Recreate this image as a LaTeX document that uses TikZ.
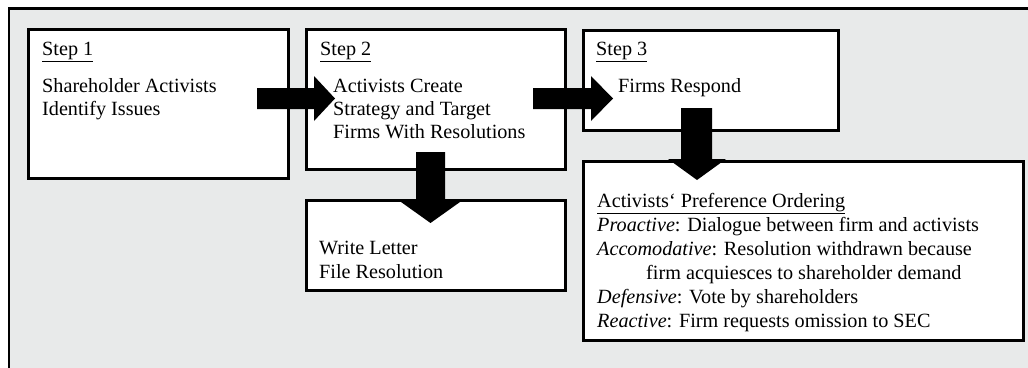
\documentclass[tikz,border=0pt]{standalone}
\usepackage{fontspec}
\setmainfont{Liberation Serif}
\definecolor{bg}{RGB}{232,234,234}
\tikzset{
  box/.style={draw, line width=2.5pt, fill=white, inner sep=0pt, anchor=north west},
  txt/.style={anchor=base west, inner sep=0pt, font=\fontsize{20.2}{23.5}\selectfont},
  blk/.style={fill=black}
}
\begin{document}
\begin{tikzpicture}[x=1pt,y=-1pt]
\useasboundingbox (0,0) rectangle (1028,367);
\clip (0,0) rectangle (1028,367);
\fill[white] (0,0) rectangle (1028,367);
\draw[line width=2.5pt, fill=bg] (9,8.5) rectangle (1060,400);
% boxes
\node (s1) [box, minimum width=260pt, minimum height=149pt] at (27,28) {};
\node (s2) [box, minimum width=259pt, minimum height=140pt] at (305,28) {};
\node (s3) [box, minimum width=255pt, minimum height=100pt] at (582,29) {};
\node (wl) [box, minimum width=259pt, minimum height=90pt] at (305,199) {};
\node (po) [box, minimum width=440pt, minimum height=179pt] at (582,160) {};
% block arrows
\fill[blk] (257,88) -- (314,88) -- (314,76) -- (335,98.5) -- (314,121) -- (314,109) -- (257,109) -- cycle;
\fill[blk] (533,88) -- (591,88) -- (591,76) -- (613,98.5) -- (591,121) -- (591,109) -- (533,109) -- cycle;
\fill[blk] (416,152) -- (416,202) -- (401,202) -- (430.5,223) -- (460,202) -- (445,202) -- (445,152) -- cycle;
\fill[blk] (681,108) -- (681,159) -- (668,159) -- (697,180) -- (726,159) -- (712,159) -- (712,108) -- cycle;
% texts
\node (t1a) [txt] at (42,55) {\underline{Step 1}};
\node (t1b) [txt] at (42,92) {Shareholder Activists};
\node (t1c) [txt] at (42,115) {Identify Issues};
\node (t2a) [txt] at (320,55) {\underline{Step 2}};
\node (t2b) [txt] at (333,92) {Activists Create};
\node (t2c) [txt] at (333,115) {Strategy and Target};
\node (t2d) [txt] at (333,138) {Firms With Resolutions};
\node (t3a) [txt] at (596,55) {\underline{Step 3}};
\node (t3b) [txt] at (618,92) {Firms Respond};
\node (w1) [txt] at (319,254) {Write Letter};
\node (w2) [txt] at (319,278) {File Resolution};
\node (p1) [txt] at (597,207) {\underline{Activists‘ Preference Ordering}};
\node (p2) [txt] at (597,231) {\textit{Proactive}: Dialogue between firm and activists};
\node (p3) [txt] at (597,255) {\textit{Accomodative}: Resolution withdrawn because};
\node (p4) [txt] at (646,279) {firm acquiesces to shareholder demand};
\node (p5) [txt] at (597,303) {\textit{Defensive}: Vote by shareholders};
\node (p6) [txt] at (597,327) {\textit{Reactive}: Firm requests omission to SEC};
\end{tikzpicture}
\end{document}
